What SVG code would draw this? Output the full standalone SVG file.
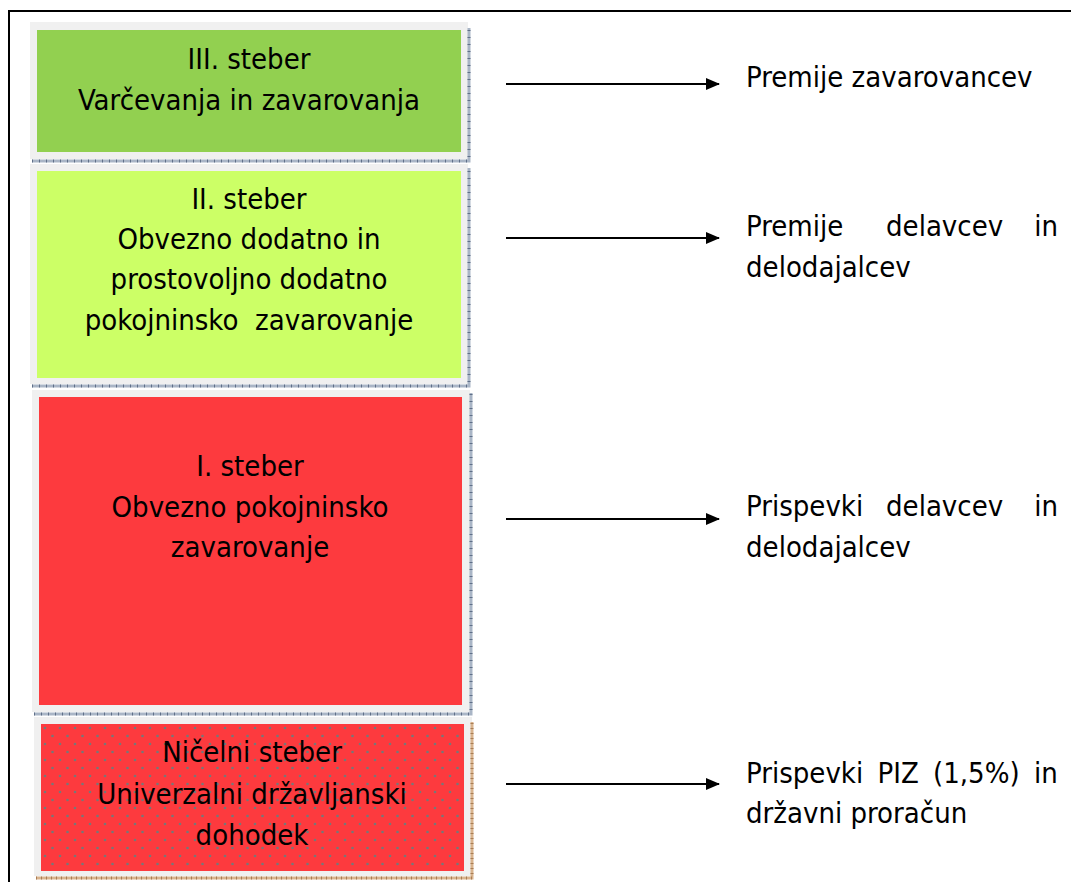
<svg xmlns="http://www.w3.org/2000/svg" width="1071" height="882" viewBox="0 0 1071 882">
<style>
.frame{fill:#f0f0f0}
.t{font-family:"DejaVu Sans Condensed","DejaVu Sans",sans-serif;font-size:29px;fill:#000;text-anchor:middle}
.r{font-family:"DejaVu Sans Condensed","DejaVu Sans",sans-serif;font-size:29px;fill:#000}
.sel{stroke:#a9b5c6;stroke-width:3;fill:none}
.selt{stroke:#5f6f88;stroke-width:3;stroke-dasharray:1 6;fill:none}
.tan{stroke:#d9b48e;stroke-width:3;fill:none}
.tant{stroke:#a87d55;stroke-width:3;stroke-dasharray:1 4;fill:none}
.arr{stroke:#000;stroke-width:2;fill:none;marker-end:url(#ah)}
</style>
<defs>
<marker id="ah" markerWidth="14" markerHeight="14" refX="13" refY="7" orient="auto" markerUnits="userSpaceOnUse">
<path d="M0,1 L14,7 L0,13 Z" fill="#000"/>
</marker>
<pattern id="dots" width="15" height="16" patternUnits="userSpaceOnUse" x="41" y="724">
<rect width="15" height="16" fill="#fd3a3e"/>
<circle cx="4" cy="4" r="1.3" fill="#777"/>
<circle cx="11.5" cy="12" r="1.3" fill="#777"/>
</pattern>
</defs>
<rect width="1071" height="882" fill="#fff"/>
<rect x="9" y="11" width="1075" height="885" fill="none" stroke="#000" stroke-width="2"/>

<g id="pillar3">
<rect class="frame" x="30" y="22" width="438" height="137"/>
<rect x="37" y="30" width="424" height="122" fill="#92d050"/>
<path class="sel" d="M32,161 H469 V28"/>
<path class="selt" d="M32,161 H469 V28"/>
<text class="t" x="249" y="69">III. steber</text>
<text class="t" x="249" y="110">Varčevanja in zavarovanja</text>
</g>

<g id="pillar2">
<rect class="frame" x="30" y="164" width="438" height="220"/>
<rect x="37" y="171" width="424" height="207" fill="#ccff66"/>
<path class="sel" d="M32,386 H469 V168"/>
<path class="selt" d="M32,386 H469 V168"/>
<text class="t" x="249" y="209">II. steber</text>
<text class="t" x="249" y="249">Obvezno dodatno in</text>
<text class="t" x="249" y="289">prostovoljno dodatno</text>
<text class="t" x="249" y="330" xml:space="preserve">pokojninsko  zavarovanje</text>
</g>

<g id="pillar1">
<rect class="frame" x="32" y="390" width="438" height="322"/>
<rect x="39" y="397" width="423" height="308" fill="#fd3a3e"/>
<path class="sel" d="M34,714 H471 V393"/>
<path class="selt" d="M34,714 H471 V393"/>
<text class="t" x="250" y="476">I. steber</text>
<text class="t" x="250" y="517">Obvezno pokojninsko</text>
<text class="t" x="250" y="557">zavarovanje</text>
</g>

<g id="pillar0">
<rect class="frame" x="34" y="717" width="438" height="159"/>
<rect x="41" y="724" width="423" height="147" fill="url(#dots)"/>
<path class="tan" d="M36,878 H472 V722"/>
<path class="tant" d="M36,878 H472 V722"/>
<text class="t" x="252" y="762">Ničelni steber</text>
<text class="t" x="252" y="804">Univerzalni državljanski</text>
<text class="t" x="252" y="845">dohodek</text>
</g>

<g id="connectors">
<line class="arr" x1="506" y1="84" x2="719" y2="84"/>
<line class="arr" x1="506" y1="238" x2="719" y2="238"/>
<line class="arr" x1="506" y1="519" x2="719" y2="519"/>
<line class="arr" x1="506" y1="784" x2="719" y2="784"/>
</g>

<g id="label3">
<text class="r" x="746" y="87">Premije zavarovancev</text>
</g>
<g id="label2">
<text class="r" x="746" y="236">Premije</text>
<text class="r" x="886" y="236">delavcev</text>
<text class="r" x="1058" y="236" text-anchor="end">in</text>
<text class="r" x="746" y="277">delodajalcev</text>
</g>
<g id="label1">
<text class="r" x="746" y="516">Prispevki</text>
<text class="r" x="886" y="516">delavcev</text>
<text class="r" x="1058" y="516" text-anchor="end">in</text>
<text class="r" x="746" y="557">delodajalcev</text>
</g>
<g id="label0">
<text class="r" x="746" y="783" word-spacing="6">Prispevki PIZ (1,5%) in</text>
<text class="r" x="746" y="823">državni proračun</text>
</g>
</svg>
